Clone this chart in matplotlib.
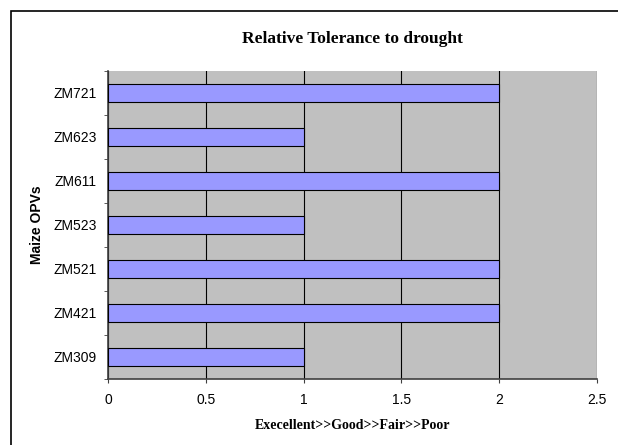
import numpy as np
import matplotlib.pyplot as plt
from matplotlib.patches import Rectangle

# Donnees
varietes = ['ZM309', 'ZM421', 'ZM521', 'ZM523', 'ZM611', 'ZM623', 'ZM721']
tolerance = [1, 2, 2, 1, 2, 1, 2]

W, H = 618, 445
fig = plt.figure(figsize=(W / 100, H / 100), dpi=100)
fig.patch.set_facecolor('white')

# cadre exterieur
fig.patches.append(Rectangle((10.5 / W, -0.1), 1.0, 1 - 11 / H + 0.1, transform=fig.transFigure,
                             fill=False, edgecolor='black', linewidth=1.2))

ax = fig.add_axes([108 / W, 1 - 379 / H, (597 - 108) / W, (379 - 71) / H])
ax.set_facecolor('#C0C0C0')

y = np.arange(len(varietes))
ax.barh(y, tolerance, height=0.41, color='#9999FF', edgecolor='black', linewidth=0.8, zorder=3)

ax.set_xlim(0, 2.5)
ax.set_ylim(-0.5, len(varietes) - 0.5)
ax.set_xticks([0, 0.5, 1, 1.5, 2, 2.5])
ax.set_xticklabels(['0', '0.5', '1', '1.5', '2', '2.5'], fontfamily='Liberation Sans', fontsize=10)
ax.set_yticks(y)
ax.set_yticklabels(varietes, fontfamily='Liberation Sans', fontsize=10)
ax.set_yticks(np.arange(-0.5, len(varietes)), minor=True)
ax.tick_params(axis='y', which='major', length=0, pad=8)
ax.tick_params(axis='y', which='minor', length=3, direction='out', color='#404040')
ax.tick_params(axis='x', which='major', length=3, direction='out', color='#404040', pad=7)

ax.grid(axis='x', color='black', linewidth=0.8, zorder=1)
ax.set_axisbelow(True)
for s in ['top', 'right']:
    ax.spines[s].set_visible(False)
for s in ['left', 'bottom']:
    ax.spines[s].set_color('#404040')
    ax.spines[s].set_linewidth(1.2)

ax.set_title('Relative Tolerance to drought', fontfamily='Liberation Serif', fontweight='bold',
             fontsize=12.5, pad=20)
ax.set_xlabel('Execellent>>Good>>Fair>>Poor', fontfamily='Liberation Serif', fontweight='bold',
              fontsize=10, labelpad=9)
ax.set_ylabel('Maize OPVs', fontfamily='Liberation Sans', fontweight='bold', fontsize=10, labelpad=7)

fig.savefig('out.png', dpi=100)
